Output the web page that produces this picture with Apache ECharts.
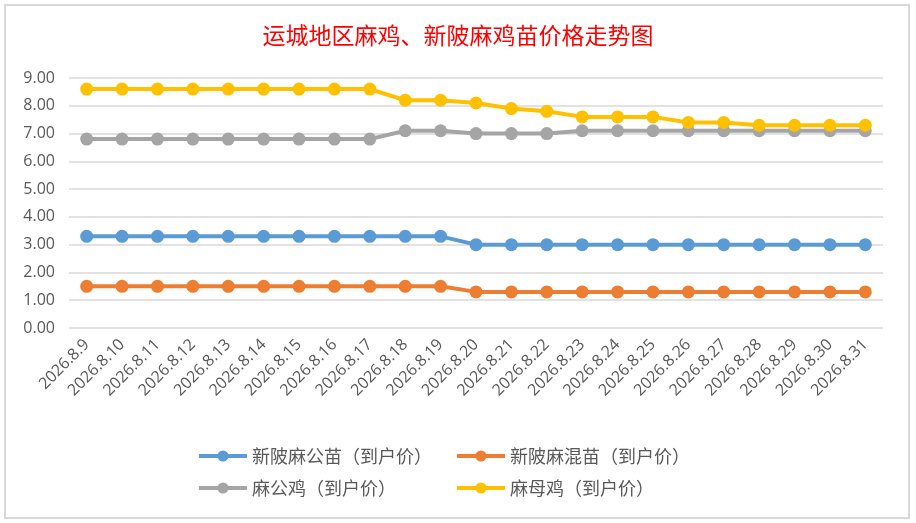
<!DOCTYPE html>
<html>
<head>
<meta charset="utf-8">
<title>运城地区麻鸡、新陂麻鸡苗价格走势图</title>
<script src="https://cdn.jsdelivr.net/npm/echarts@6/dist/echarts.min.js"></script>
<style>
  html, body { margin: 0; padding: 0; background: #fff; }
  #main { width: 916px; height: 523px; }
</style>
</head>
<body>
<div id="main"></div>
<script>
// 日期
var dates = ['2026.8.9', '2026.8.10', '2026.8.11', '2026.8.12', '2026.8.13', '2026.8.14',
  '2026.8.15', '2026.8.16', '2026.8.17', '2026.8.18', '2026.8.19', '2026.8.20',
  '2026.8.21', '2026.8.22', '2026.8.23', '2026.8.24', '2026.8.25', '2026.8.26',
  '2026.8.27', '2026.8.28', '2026.8.29', '2026.8.30', '2026.8.31'];

// 新陂麻公苗
var gongMiao = [3.3, 3.3, 3.3, 3.3, 3.3, 3.3, 3.3, 3.3, 3.3, 3.3, 3.3, 3.0,
  3.0, 3.0, 3.0, 3.0, 3.0, 3.0, 3.0, 3.0, 3.0, 3.0, 3.0];
// 新陂麻混苗
var hunMiao = [1.5, 1.5, 1.5, 1.5, 1.5, 1.5, 1.5, 1.5, 1.5, 1.5, 1.5, 1.3,
  1.3, 1.3, 1.3, 1.3, 1.3, 1.3, 1.3, 1.3, 1.3, 1.3, 1.3];
// 麻公鸡
var gongJi = [6.8, 6.8, 6.8, 6.8, 6.8, 6.8, 6.8, 6.8, 6.8, 7.1, 7.1, 7.0,
  7.0, 7.0, 7.1, 7.1, 7.1, 7.1, 7.1, 7.1, 7.1, 7.1, 7.1];
// 麻母鸡
var muJi = [8.6, 8.6, 8.6, 8.6, 8.6, 8.6, 8.6, 8.6, 8.6, 8.2, 8.2, 8.1,
  7.9, 7.8, 7.6, 7.6, 7.6, 7.4, 7.4, 7.3, 7.3, 7.3, 7.3];

var names = ['新陂麻公苗（到户价）', '新陂麻混苗（到户价）', '麻公鸡（到户价）', '麻母鸡（到户价）'];
var colors = ['#5B9BD5', '#ED7D31', '#A5A5A5', '#FFC000'];
var values = [gongMiao, hunMiao, gongJi, muJi];

var textColor = '#595959';
var cjk = '"Noto Sans CJK SC", sans-serif';

var myChart = echarts.init(document.getElementById('main'));

// 图例位置，两行两列
var legendPos = [
  { left: 192, top: 442 },
  { left: 450, top: 442 },
  { left: 192, top: 474 },
  { left: 450, top: 474 },
];

var legends = names.map(function (n, i) {
  return {
    data: [n],
    left: legendPos[i].left,
    top: legendPos[i].top,
    itemWidth: 48,
    itemHeight: 14,
    itemGap: 6,
    lineStyle: { width: 4 },
    textStyle: { color: textColor, fontSize: 18, fontFamily: cjk },
  };
});

var series = names.map(function (n, i) {
  return {
    name: n,
    type: 'line',
    data: values[i],
    symbol: 'circle',
    symbolSize: 13,
    itemStyle: { color: colors[i] },
    lineStyle: { color: colors[i], width: 4 },
    animation: false,
  };
});

var option = {
  color: colors,
  backgroundColor: '#fff',
  title: {
    text: '运城地区麻鸡、新陂麻鸡苗价格走势图',
    left: 'center',
    top: 19,
    textStyle: { color: '#FF0000', fontSize: 23, fontWeight: 'normal', fontFamily: cjk },
  },
  graphic: [
    {
      type: 'rect',
      shape: { x: 5, y: 5, width: 904, height: 513 },
      style: { fill: 'none', stroke: '#D9D9D9', lineWidth: 2 },
      silent: true,
    },
  ],
  legend: legends,
  grid: { left: 69, right: 33, top: 78, height: 250 },
  xAxis: {
    type: 'category',
    data: dates,
    boundaryGap: true,
    axisLine: { show: false },
    axisTick: { show: false },
    axisLabel: {
      rotate: 45,
      interval: 0,
      margin: 14,
      color: textColor,
      fontSize: 16,
      fontFamily: 'Open Sans, sans-serif',
    },
  },
  yAxis: {
    type: 'value',
    min: 0,
    max: 9,
    interval: 1,
    axisLine: { show: false },
    axisTick: { show: false },
    splitLine: { lineStyle: { color: '#D9D9D9', width: 1.5 } },
    axisLabel: {
      margin: 14,
      color: textColor,
      fontSize: 16,
      fontFamily: 'Open Sans, sans-serif',
      formatter: function (v) { return v.toFixed(2); },
    },
  },
  series: series,
};

myChart.setOption(option);
</script>
</body>
</html>
